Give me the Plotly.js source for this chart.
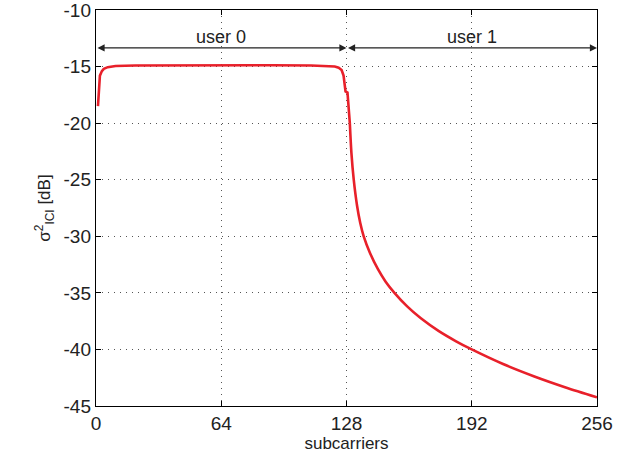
<!DOCTYPE html>
<html>
<head>
<meta charset="utf-8">
<script src="https://cdn.plot.ly/plotly-3.0.1.min.js"></script>
<style>html,body{margin:0;padding:0;background:#fff;}#chart{width:630px;height:456px;}</style>
</head>
<body>
<div id="chart"></div>
<script>
// subcarrier index
const subcarriers = [1, 1.5, 2, 3, 4, 6, 10, 20, 40, 64, 90, 110, 118, 122, 124, 125.5, 126.5, 127, 127.5, 128.5,
  129, 129.4, 129.7, 130.5, 131.7, 133.4, 135, 136.8, 140, 144, 148, 152.5, 159, 166, 175, 184, 192, 208, 224, 240, 256];
// ICI power in dB
const iciPower = [-18.5, -16.5, -15.8, -15.4, -15.2, -15.05, -14.95, -14.9, -14.88, -14.87, -14.88, -14.9, -14.95, -15.0, -15.1, -15.3, -15.8, -16.5, -17.2, -17.3,
  -18.5, -19.5, -20.0, -22.6, -25.0, -27.3, -28.8, -30.0, -31.47, -32.89, -34.01, -35.0, -36.2, -37.25, -38.36, -39.28, -40.0, -41.29, -42.39, -43.36, -44.23];
const xTicks = [0, 64, 128, 192, 256];
const yTicks = [-45, -40, -35, -30, -25, -20, -15, -10];
const userLabels = ["user 0", "user 1"];
const userBounds = [[0, 128], [128, 256]];
const arrowLevel = -13.35;

const font = {family: "Liberation Sans, Arial, sans-serif", color: "#222"};

const annotations = [];
userBounds.forEach((b, i) => {
  annotations.push({
    x: b[1], y: arrowLevel, ax: b[0], ay: arrowLevel,
    xref: "x", yref: "y", axref: "x", ayref: "y",
    text: "", showarrow: true, arrowside: "end+start",
    arrowhead: 2, arrowsize: 1.1, arrowwidth: 1.3, arrowcolor: "#222",
    standoff: 0, startstandoff: 0
  });
  annotations.push({
    x: (b[0] + b[1]) / 2, y: arrowLevel, xref: "x", yref: "y",
    text: userLabels[i], showarrow: false, yanchor: "bottom", yshift: -1,
    font: Object.assign({size: 18}, font)
  });
});

// split: sharp edges drawn linearly, the smooth decay drawn as a spline
const splitIdx = subcarriers.indexOf(129.7);
const lineStyle = {color: "#e8202a", width: 2.6};
const traces = [
  {x: subcarriers.slice(0, splitIdx + 1), y: iciPower.slice(0, splitIdx + 1), type: "scatter", mode: "lines",
   line: Object.assign({shape: "linear"}, lineStyle), hoverinfo: "skip"},
  {x: subcarriers.slice(splitIdx), y: iciPower.slice(splitIdx), type: "scatter", mode: "lines",
   line: Object.assign({shape: "spline", smoothing: 0.8}, lineStyle), hoverinfo: "skip"}
];

const axisCommon = {
  showline: true, linecolor: "#000", linewidth: 1.2, mirror: "ticks",
  ticks: "inside", ticklen: 5, tickcolor: "#000",
  showgrid: true, gridcolor: "#555", gridwidth: 1, griddash: "1px,5px",
  zeroline: false, tickfont: Object.assign({size: 19}, font),
  ticklabeloverflow: "allow"
};

const layout = {
  width: 630, height: 456,
  margin: {l: 96, r: 33, t: 10, b: 50},
  paper_bgcolor: "#fff", plot_bgcolor: "#fff",
  showlegend: false,
  xaxis: Object.assign({}, axisCommon, {
    range: [0, 256], tickvals: xTicks, ticktext: xTicks.map(String),
    title: {text: "subcarriers", font: Object.assign({size: 17}, font), standoff: 2}
  }),
  yaxis: Object.assign({}, axisCommon, {
    range: [-45, -10], tickvals: yTicks, ticktext: yTicks.map(String),
    title: {text: "σ<sup>2</sup><sub>ICI</sub> [dB]", font: Object.assign({size: 17}, font), standoff: 8}
  }),
  annotations: annotations
};

Plotly.newPlot("chart", traces, layout, {staticPlot: true, displayModeBar: false});
</script>
</body>
</html>
